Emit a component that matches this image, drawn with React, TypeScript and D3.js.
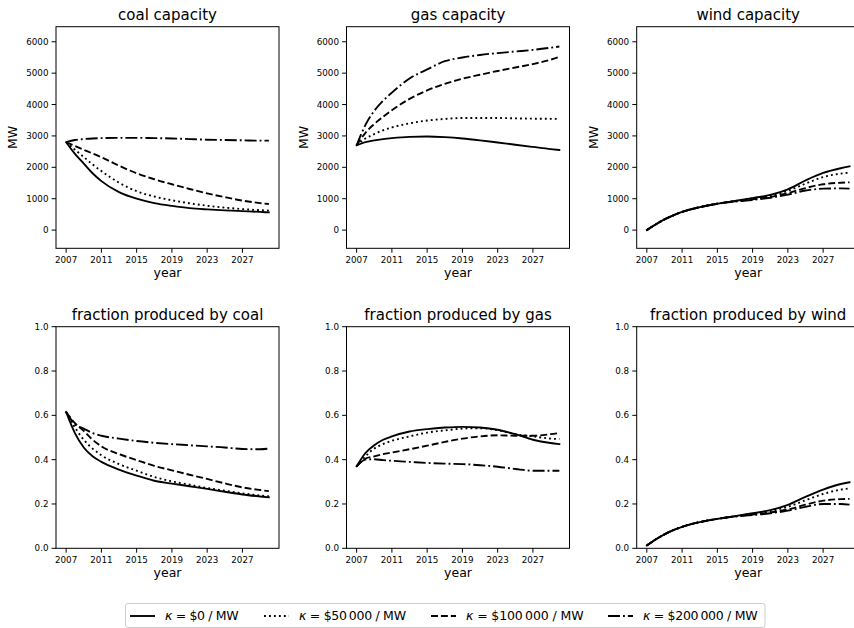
import React from "react";
import * as d3 from "d3";

const years = [2007, 2008, 2009, 2010, 2011, 2013, 2015, 2017, 2019, 2021, 2023, 2025, 2027, 2029, 2030];
const xTicks = [2007, 2011, 2015, 2019, 2023, 2027];

const seriesLabels = ["$0", "$50\u2009000", "$100\u2009000", "$200\u2009000"];

// coal capacity (MW)
const coalCap0 = [2800, 2430, 2120, 1810, 1560, 1210, 1000, 860, 770, 700, 660, 630, 605, 580, 565];
const coalCap50 = [2800, 2560, 2330, 2090, 1880, 1510, 1240, 1070, 950, 855, 775, 715, 670, 635, 620];
const coalCap100 = [2800, 2680, 2560, 2440, 2320, 2050, 1810, 1620, 1460, 1310, 1170, 1050, 940, 860, 830];
const coalCap200 = [2800, 2870, 2900, 2920, 2930, 2940, 2940, 2930, 2920, 2900, 2880, 2870, 2860, 2850, 2850];

// gas capacity (MW)
const gasCap0 = [2700, 2800, 2860, 2900, 2930, 2970, 2980, 2960, 2920, 2860, 2790, 2720, 2650, 2580, 2550];
const gasCap50 = [2700, 2920, 3060, 3180, 3270, 3400, 3490, 3540, 3570, 3570, 3570, 3560, 3550, 3545, 3540];
const gasCap100 = [2700, 3100, 3380, 3610, 3820, 4180, 4450, 4660, 4820, 4950, 5070, 5180, 5290, 5430, 5520];
const gasCap200 = [2700, 3350, 3800, 4120, 4380, 4830, 5120, 5380, 5500, 5580, 5640, 5690, 5740, 5810, 5850];

// wind capacity (MW)
const windCap0 = [0, 180, 340, 470, 580, 730, 840, 930, 1020, 1120, 1300, 1580, 1820, 1970, 2030];
const windCap50 = [0, 180, 340, 470, 580, 730, 840, 930, 1010, 1100, 1250, 1480, 1690, 1800, 1830];
const windCap100 = [0, 180, 340, 470, 580, 730, 840, 920, 980, 1060, 1180, 1340, 1460, 1510, 1520];
const windCap200 = [0, 180, 340, 470, 580, 730, 840, 910, 960, 1030, 1130, 1260, 1320, 1330, 1320];

// fraction produced by coal
const coalFrac0 = [0.615, 0.52, 0.455, 0.415, 0.39, 0.355, 0.328, 0.305, 0.292, 0.28, 0.268, 0.255, 0.243, 0.234, 0.23];
const coalFrac50 = [0.615, 0.545, 0.49, 0.45, 0.42, 0.38, 0.35, 0.322, 0.302, 0.287, 0.272, 0.26, 0.248, 0.238, 0.235];
const coalFrac100 = [0.615, 0.565, 0.53, 0.49, 0.46, 0.425, 0.398, 0.372, 0.352, 0.332, 0.313, 0.293, 0.275, 0.263, 0.258];
const coalFrac200 = [0.615, 0.56, 0.54, 0.52, 0.508, 0.495, 0.484, 0.476, 0.47, 0.465, 0.46, 0.455, 0.448, 0.447, 0.45];

// fraction produced by gas
const gasFrac0 = [0.37, 0.43, 0.465, 0.49, 0.505, 0.527, 0.538, 0.545, 0.548, 0.545, 0.535, 0.515, 0.49, 0.475, 0.47];
const gasFrac50 = [0.37, 0.415, 0.45, 0.47, 0.485, 0.505, 0.522, 0.532, 0.54, 0.542, 0.533, 0.515, 0.505, 0.495, 0.493];
const gasFrac100 = [0.37, 0.405, 0.415, 0.425, 0.432, 0.447, 0.463, 0.48, 0.495, 0.505, 0.51, 0.508, 0.508, 0.515, 0.52];
const gasFrac200 = [0.37, 0.4, 0.402, 0.398, 0.395, 0.39, 0.385, 0.382, 0.38, 0.375, 0.368, 0.358, 0.35, 0.35, 0.35];

// fraction produced by wind
const windFrac0 = [0.013, 0.04, 0.063, 0.082, 0.097, 0.118, 0.133, 0.145, 0.158, 0.172, 0.196, 0.232, 0.265, 0.29, 0.298];
const windFrac50 = [0.013, 0.04, 0.063, 0.082, 0.097, 0.118, 0.133, 0.145, 0.156, 0.168, 0.187, 0.217, 0.245, 0.265, 0.27];
const windFrac100 = [0.013, 0.04, 0.063, 0.082, 0.097, 0.118, 0.133, 0.144, 0.152, 0.162, 0.175, 0.197, 0.215, 0.222, 0.223];
const windFrac200 = [0.013, 0.04, 0.063, 0.082, 0.097, 0.118, 0.133, 0.143, 0.15, 0.158, 0.17, 0.187, 0.2, 0.2, 0.197];

const capTicks = [0, 1000, 2000, 3000, 4000, 5000, 6000];
const fracTicks = [0, 0.2, 0.4, 0.6, 0.8, 1.0];
const capDomain: [number, number] = [-580, 6480];
const fracDomain: [number, number] = [0, 1];

const FONT = "'DejaVu Sans', 'Liberation Sans', sans-serif";
const LW = 1.875;
const dashes = ["", "1.875,3.09", "6.94,3", "12,3,1.875,3"];

type Panel = {
  title: string;
  series: number[][];
  domain: [number, number];
  ticks: number[];
  fmt: (v: number) => string;
  ylabel?: string;
};

const capFmt = (v: number) => String(v);
const fracFmt = (v: number) => v.toFixed(1);

const panels: Panel[] = [
  { title: "coal capacity", series: [coalCap0, coalCap50, coalCap100, coalCap200], domain: capDomain, ticks: capTicks, fmt: capFmt, ylabel: "MW" },
  { title: "gas capacity", series: [gasCap0, gasCap50, gasCap100, gasCap200], domain: capDomain, ticks: capTicks, fmt: capFmt, ylabel: "MW" },
  { title: "wind capacity", series: [windCap0, windCap50, windCap100, windCap200], domain: capDomain, ticks: capTicks, fmt: capFmt, ylabel: "MW" },
  { title: "fraction produced by coal", series: [coalFrac0, coalFrac50, coalFrac100, coalFrac200], domain: fracDomain, ticks: fracTicks, fmt: fracFmt },
  { title: "fraction produced by gas", series: [gasFrac0, gasFrac50, gasFrac100, gasFrac200], domain: fracDomain, ticks: fracTicks, fmt: fracFmt },
  { title: "fraction produced by wind", series: [windFrac0, windFrac50, windFrac100, windFrac200], domain: fracDomain, ticks: fracTicks, fmt: fracFmt },
];

const colLefts = [56, 346.5, 636.7];
const rowTops = [26.7, 326.7];
const PW = 223;
const PH = 221.6;

const xMin = years[0];
const xMax = years[years.length - 1];
const xPad = (xMax - xMin) * 0.05;

function PanelView({ p, left, top }: { p: Panel; left: number; top: number }) {
  const x = d3.scaleLinear().domain([xMin - xPad, xMax + xPad]).range([left, left + PW]);
  const y = d3.scaleLinear().domain(p.domain).range([top + PH, top]);
  const line = d3
    .line<number>()
    .x((_, i) => x(years[i]))
    .y((d) => y(d))
    .curve(d3.curveMonotoneX);
  const bottom = top + PH;
  return (
    <g>
      {p.series.map((s, i) => (
        <path
          key={i}
          d={line(s) || ""}
          fill="none"
          stroke="#000"
          strokeWidth={LW}
          strokeDasharray={dashes[i] || undefined}
          strokeLinecap={i === 0 ? "square" : "butt"}
          strokeLinejoin="round"
        />
      ))}
      <rect x={left} y={top} width={PW} height={PH} fill="none" stroke="#000" strokeWidth={1} />
      {xTicks.map((t) => (
        <g key={t}>
          <line x1={x(t)} x2={x(t)} y1={bottom} y2={bottom + 4.4} stroke="#000" strokeWidth={1} />
          <text x={x(t)} y={bottom + 14.2} textAnchor="middle" fontSize={8.75} fontFamily={FONT} fill="#000">
            {t}
          </text>
        </g>
      ))}
      {p.ticks.map((t) => (
        <g key={t}>
          <line x1={left - 4.4} x2={left} y1={y(t)} y2={y(t)} stroke="#000" strokeWidth={1} />
          <text x={left - 7.5} y={y(t)} dy="0.36em" textAnchor="end" fontSize={8.75} fontFamily={FONT} fill="#000">
            {p.fmt(t)}
          </text>
        </g>
      ))}
      <text x={left + PW / 2} y={bottom + 29} textAnchor="middle" fontSize={12.5} fontFamily={FONT} fill="#000">
        year
      </text>
      {p.ylabel && (
        <text
          transform={`translate(${left - 39},${top + PH / 2}) rotate(-90)`}
          textAnchor="middle"
          fontSize={12.5}
          fontFamily={FONT}
          fill="#000"
        >
          {p.ylabel}
        </text>
      )}
      <text x={left + PW / 2} y={top - 7} textAnchor="middle" fontSize={15} fontFamily={FONT} fill="#000">
        {p.title}
      </text>
    </g>
  );
}

const legendHandleX = [130, 264, 431, 608];
const legendTextX = [165, 299, 466, 643];
const legendTextLen = [73.5, 107, 117.5, 114.5];

export default function App() {
  return (
    <svg
      width={854}
      height={628}
      viewBox="0 0 854 628"
      style={{ position: "absolute", left: 0, top: 0, display: "block", background: "#fff" }}
    >
      <rect x={0} y={0} width={854} height={628} fill="#fff" />
      {panels.map((p, i) => (
        <PanelView key={i} p={p} left={colLefts[i % 3]} top={rowTops[Math.floor(i / 3)]} />
      ))}
      <rect x={125.5} y={603.5} width={639.5} height={24} rx={2.5} fill="#fff" fillOpacity={0.8} stroke="#ccc" strokeWidth={1} />
      {seriesLabels.map((lab, i) => (
        <g key={i}>
          <line
            x1={legendHandleX[i]}
            x2={legendHandleX[i] + 25}
            y1={616}
            y2={616}
            stroke="#000"
            strokeWidth={LW}
            strokeDasharray={dashes[i] || undefined}
          />
          <text
            x={legendTextX[i]}
            y={620.3}
            fontSize={12.5}
            fontFamily={FONT}
            fill="#000"
            textLength={legendTextLen[i]}
            lengthAdjust="spacing"
          >
            <tspan fontStyle="italic">κ</tspan>
            {` = ${lab} / MW`}
          </text>
        </g>
      ))}
    </svg>
  );
}
